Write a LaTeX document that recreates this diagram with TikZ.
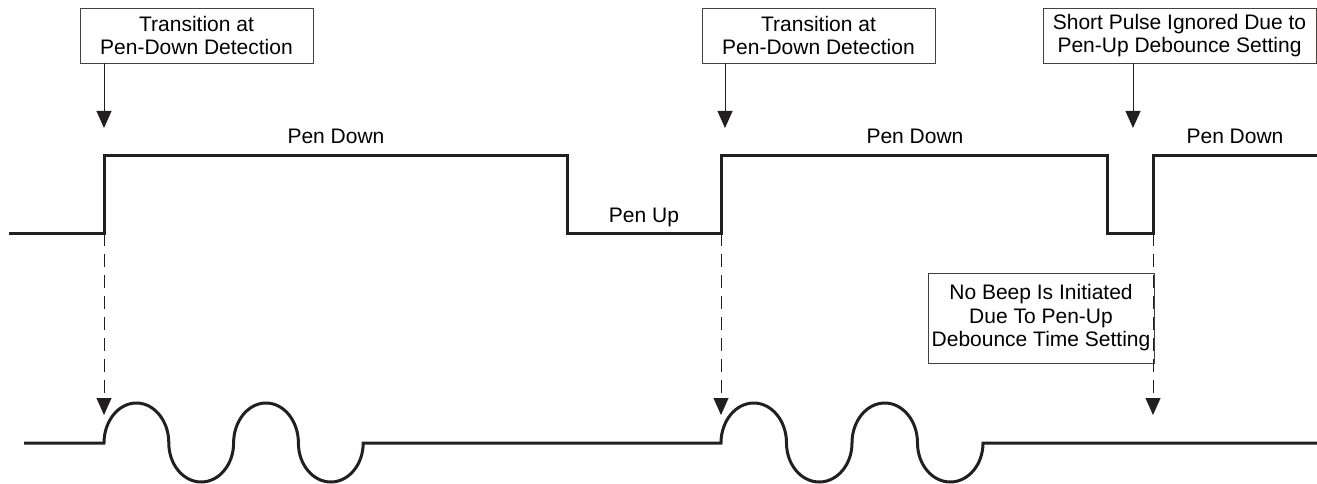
\documentclass[tikz,border=0pt]{standalone}
\usepackage{fontspec}
\setmainfont{Liberation Sans}
\usetikzlibrary{positioning,arrows.meta}
\definecolor{ink}{RGB}{35,31,32}

\begin{document}
\begin{tikzpicture}[x=1pt,y=-1pt,>={Triangle[length=17pt,width=15pt]},
  font=\fontsize{21}{23.5}\selectfont,
  callout/.style={draw=ink!85,line width=0.9pt,fill=white,align=center,inner sep=0pt,minimum height=55pt},
  signal/.style={ink,line width=3pt},
  pointer/.style={->,ink,line width=0.9pt},
  dashpointer/.style={pointer,dash pattern=on 13pt off 8pt}]
\useasboundingbox (0,0) rectangle (1317,484);
% callouts
\node[callout,minimum width=233pt] (trans1) at (196.5,35.5) {Transition at\\Pen-Down Detection};
\node[callout,minimum width=233pt] (trans2) at (818.5,35.5) {Transition at\\Pen-Down Detection};
\node[callout,minimum width=273pt] (short) at (1179.5,35.5) {Short Pulse Ignored Due to\\Pen-Up Debounce Setting};
\node[callout,minimum width=226pt,minimum height=90pt] (nobeep) at (1041,318) {No Beep Is Initiated\\Due To Pen-Up\\Debounce Time Setting};
% edges of the pen signal
\coordinate (up1) at (104,233);
\coordinate (up2) at (721,233);
\coordinate (up3) at (1153,233);
\coordinate (tip1) at (104,128);
\coordinate (tip2) at (725,128);
\coordinate (tip3) at (1133,128);
\coordinate (beep1) at (104,415);
\coordinate (beep2) at (721,415);
\coordinate (beep3) at (1153,415);
% pen signal
\draw[signal] (9,233) -- (up1) -- (104,156) -- (567,156) -- (567,233) -- (up2) -- (721,156)
  -- (1107,156) -- (1107,233) -- (up3) -- (1153,156) -- (1317,156);
\node[anchor=base] (down1) at (336,143) {Pen Down};
\node[anchor=base] (penup) at (644,222) {Pen Up};
\node[anchor=base] (down2) at (915,143) {Pen Down};
\node[anchor=base] (down3) at (1235,143) {Pen Down};
% beep signal
\draw[signal] (24,443) -- (104,443)
  arc[start angle=180,end angle=360,x radius=32.4,y radius=40]
  arc[start angle=180,end angle=0,x radius=32.4,y radius=39]
  arc[start angle=180,end angle=360,x radius=32.4,y radius=40]
  arc[start angle=180,end angle=0,x radius=32.4,y radius=39]
  -- (721,443)
  arc[start angle=180,end angle=360,x radius=32.75,y radius=40]
  arc[start angle=180,end angle=0,x radius=32.75,y radius=39]
  arc[start angle=180,end angle=360,x radius=32.75,y radius=40]
  arc[start angle=180,end angle=0,x radius=32.75,y radius=39]
  -- (1317,443);
% pointers
\draw[pointer] (trans1.south -| tip1) -- (tip1);
\draw[pointer] (trans2.south -| tip2) -- (tip2);
\draw[pointer] (short.south -| tip3) -- (tip3);
\draw[dashpointer] (up1) -- (beep1);
\draw[dashpointer] (up2) -- (beep2);
\draw[dashpointer] (up3) -- (beep3);
\end{tikzpicture}
\end{document}
